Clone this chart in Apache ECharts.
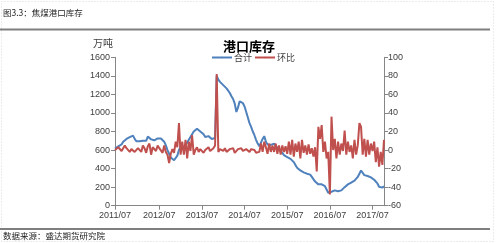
<!DOCTYPE html>
<html><head><meta charset="utf-8">
<script src="https://cdn.jsdelivr.net/npm/echarts@6/dist/echarts.min.js"></script>
<style>html,body{margin:0;padding:0;background:#fff}#c{width:498px;height:243px}</style>
</head><body><div id="c"></div>
<script>
// Biweekly observations starting 2011-07-01
const startDate = '2011-07-01';
const stepDays = 14;
const seriesNames = ['合计', '环比'];
// 合计 (万吨), left axis
const totalValues = [615,630,640,625,660,690,705,720,730,740,745,755,720,695,690,695,685,700,690,700,
745,765,715,700,705,715,725,735,725,710,690,650,600,560,520,500,490,510,540,600,
640,655,630,640,680,710,740,770,800,820,830,825,800,780,770,740,735,750,730,720,
700,730,1400,1360,1335,1320,1300,1285,1265,1240,1215,1180,1150,1100,1010,1060,1125,1120,1105,1070,
1010,950,890,850,800,760,710,670,640,655,720,750,690,660,650,655,660,670,640,630,
610,590,570,545,535,525,510,505,490,470,440,410,395,380,370,360,350,345,350,335,
310,290,260,240,230,215,230,250,210,175,140,130,150,170,165,150,155,150,165,185,
200,215,230,245,250,265,270,280,310,345,380,360,330,315,320,300,305,295,280,265,
240,205,185,195,210];
// 环比 (%), right axis
const ratioValues = [0,-1,3,4,-1,-3,5,2,4,-2,1,3,-2,-4,2,1,-2,5,2,-3,
4,7,-5,3,1,-1,5,2,3,-3,5,-2,-5,-14,-4,1,-3,9,3,29,
-5,9,-5,11,-9,9,-1,16,-5,0,3,-2,1,2,-3,0,2,3,-1,-2,
2,5,82,-2,1,0,-1,2,-2,0,1,-1,2,-3,-2,1,0,2,-1,-3,
1,0,-2,1,-1,0,-3,-5,-2,7,-2,9,3,-4,7,-2,5,-2,7,-4,
5,-5,5,-2,4,-4,9,-5,11,-7,7,-2,9,-9,11,-3,5,-5,6,-4,
2,-7,3,-23,25,12,27,-2,9,-9,-2,-48,36,0,12,-9,9,-5,7,-1,
21,-5,9,-2,5,-9,11,-5,5,29,25,-5,12,-7,11,-5,7,-1,9,-13,
3,-18,-2,-16,11];
const leftTicks = [0,1600,200];
const rightTicks = [-60,100,20];

const categories = [];
const labelIdx = new Set();
const d0 = new Date(startDate + 'T00:00:00Z');
let lastYear = -1;
for (let i = 0; i < totalValues.length; i++) {
  const d = new Date(d0.getTime() + i * stepDays * 86400000);
  const y = d.getUTCFullYear(), m = d.getUTCMonth() + 1;
  categories.push(y + '/' + String(m).padStart(2, '0'));
  if (m === 7 && y !== lastYear) { labelIdx.add(i); lastYear = y; }
}
const showIdx = (i) => labelIdx.has(i);

const txt = '#404040';
const axisCol = '#868686';
const chart = echarts.init(document.getElementById('c'));
chart.setOption({
  animation: false,
  textStyle: { fontFamily: 'Liberation Sans, Arial, Noto Sans CJK SC, sans-serif' },
  title: {
    text: '港口库存', left: 'center', top: 35,
    textStyle: { fontSize: 13, fontWeight: 'bold', color: '#000', fontFamily: 'Noto Sans CJK SC' }
  },
  legend: {
    data: seriesNames, left: 206, top: 48, itemWidth: 20, itemHeight: 2, itemGap: 2,
    textStyle: { fontSize: 9, color: txt, fontFamily: 'Noto Sans CJK SC', padding: [0, 0, 0, -3] }
  },
  grid: { left: 115, right: 114, top: 57.3, bottom: 37.3 },
  xAxis: {
    type: 'category', data: categories, boundaryGap: false,
    axisLine: { lineStyle: { color: axisCol, width: 1 } },
    axisTick: { interval: showIdx, length: 4, lineStyle: { color: axisCol } },
    axisLabel: { interval: showIdx, color: txt, fontSize: 9, margin: 5 }
  },
  yAxis: [
    {
      type: 'value', min: leftTicks[0], max: leftTicks[1], interval: leftTicks[2],
      name: '万吨', nameGap: 9, nameTextStyle: { color: txt, fontSize: 10, fontFamily: 'Noto Sans CJK SC', padding: [0, 24, 0, 0] },
      splitLine: { show: false },
      axisLine: { show: true, lineStyle: { color: axisCol } },
      axisTick: { show: true, length: 4, lineStyle: { color: axisCol } },
      axisLabel: { color: txt, fontSize: 9, margin: 5, formatter: (v) => String(v) }
    },
    {
      type: 'value', min: rightTicks[0], max: rightTicks[1], interval: rightTicks[2],
      splitLine: { show: false },
      axisLine: { show: true, lineStyle: { color: axisCol } },
      axisTick: { show: true, length: 4, lineStyle: { color: axisCol } },
      axisLabel: { color: txt, fontSize: 9, margin: 4, formatter: (v) => String(v) }
    }
  ],
  series: [
    { name: seriesNames[0], type: 'line', data: totalValues, yAxisIndex: 0, symbol: 'none',
      lineStyle: { color: '#4F81BD', width: 2 }, itemStyle: { color: '#4F81BD' } },
    { name: seriesNames[1], type: 'line', data: ratioValues, yAxisIndex: 1, symbol: 'none',
      lineStyle: { color: '#C0504D', width: 2 }, itemStyle: { color: '#C0504D' } }
  ],
  graphic: [
    { type: 'rect', shape: { x: 1.5, y: 1.5, width: 492, height: 240 }, style: { fill: 'none', stroke: '#d9d9d9', lineWidth: 1, lineDash: [1, 2] } },
    { type: 'text', left: 3, top: 9, style: { text: '图3.3：焦煤港口库存', fontSize: 8.5, fill: '#222', fontFamily: 'Noto Sans CJK SC' } },
    { type: 'rect', shape: { x: 0, y: 28.5, width: 490, height: 2 }, style: { fill: '#7f7f7f' } },
    { type: 'rect', shape: { x: 0, y: 228, width: 490, height: 2 }, style: { fill: '#7f7f7f' } },
    { type: 'text', left: 3, top: 232, style: { text: '数据来源：盛达期货研究院', fontSize: 8.5, fill: '#222', fontFamily: 'Noto Sans CJK SC' } }
  ]
});
</script></body></html>
